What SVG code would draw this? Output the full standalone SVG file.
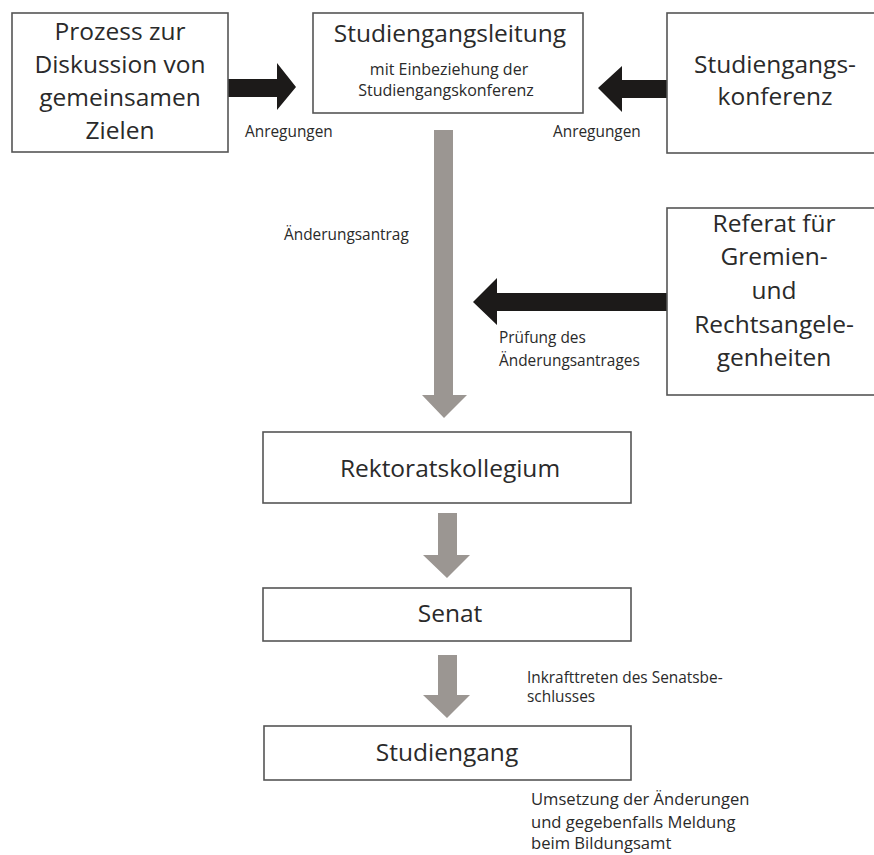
<svg xmlns="http://www.w3.org/2000/svg" width="874" height="855" viewBox="0 0 874 855">
<style>
.box{fill:#fff;stroke:#555;stroke-width:1.6}
.big{font-family:"Open Sans","Noto Sans","Liberation Sans",sans-serif;font-size:24.5px;fill:#2a2a2a;text-anchor:middle}
.mid{font-family:"Open Sans","Noto Sans","Liberation Sans",sans-serif;font-size:16px;fill:#2a2a2a;text-anchor:middle}
.lbl{font-family:"Open Sans","Noto Sans","Liberation Sans",sans-serif;font-size:15.4px;fill:#2a2a2a}
.lbl2{font-family:"Open Sans","Noto Sans","Liberation Sans",sans-serif;font-size:16.6px;fill:#2a2a2a}
.blk{fill:#1c1a19}
.gry{fill:#9b9692}
</style>
<rect width="874" height="855" fill="#fff"/>
<g id="connectors">
<polygon class="blk" points="227,79 277,79 277,63 296,87 277,110 277,97 227,97"/>
<polygon class="blk" points="667,80 622,80 622,66 598,88 622,112 622,98 667,98"/>
<polygon class="blk" points="667,293 497,293 497,278 473,302 497,325 497,311 667,311"/>
<polygon class="gry" points="434,130 453,130 453,395 467,395 444,418 422,395 434,395"/>
<polygon class="gry" points="438,513 457,513 457,555 470,555 447,578 423,555 438,555"/>
<polygon class="gry" points="438,655 457,655 457,695 470,695 447,718 423,695 438,695"/>
<text class="lbl" x="245" y="137">Anregungen</text>
<text class="lbl" x="553" y="137">Anregungen</text>
<text class="lbl" x="284" y="240">Änderungsantrag</text>
<text class="lbl" x="499" y="343">Prüfung des</text>
<text class="lbl" x="499" y="366">Änderungsantrages</text>
<text class="lbl" x="527" y="683">Inkrafttreten des Senatsbe-</text>
<text class="lbl" x="527" y="702">schlusses</text>
<text class="lbl2" x="531" y="805">Umsetzung der Änderungen</text>
<text class="lbl2" x="531" y="828">und gegebenfalls Meldung</text>
<text class="lbl2" x="531" y="849">beim Bildungsamt</text>
</g>
<g id="prozess">
<rect class="box" x="12" y="13" width="216" height="139"/>
<text class="big" x="120" y="40">Prozess zur</text>
<text class="big" x="120" y="73">Diskussion von</text>
<text class="big" x="120" y="106">gemeinsamen</text>
<text class="big" x="120" y="139">Zielen</text>
</g>
<g id="studiengangsleitung">
<rect class="box" x="313" y="13" width="270" height="100"/>
<text class="big" x="450" y="42">Studiengangsleitung</text>
<text class="mid" x="449" y="75">mit Einbeziehung der</text>
<text class="mid" x="446" y="96">Studiengangskonferenz</text>
</g>
<g id="studiengangskonferenz">
<rect class="box" x="667" y="13" width="216" height="140"/>
<text class="big" x="775" y="73">Studiengangs-</text>
<text class="big" x="775" y="105">konferenz</text>
</g>
<g id="referat">
<rect class="box" x="667" y="208" width="216" height="187"/>
<text class="big" x="774" y="232">Referat für</text>
<text class="big" x="774" y="265">Gremien-</text>
<text class="big" x="774" y="299">und</text>
<text class="big" x="774" y="333">Rechtsangele-</text>
<text class="big" x="774" y="366">genheiten</text>
</g>
<g id="rektorat">
<rect class="box" x="263" y="432" width="368" height="71"/>
<text class="big" x="450" y="477">Rektoratskollegium</text>
</g>
<g id="senat">
<rect class="box" x="263" y="588" width="368" height="53"/>
<text class="big" x="450" y="622">Senat</text>
</g>
<g id="studiengang">
<rect class="box" x="264" y="726" width="367" height="54"/>
<text class="big" x="447" y="761">Studiengang</text>
</g>
</svg>
